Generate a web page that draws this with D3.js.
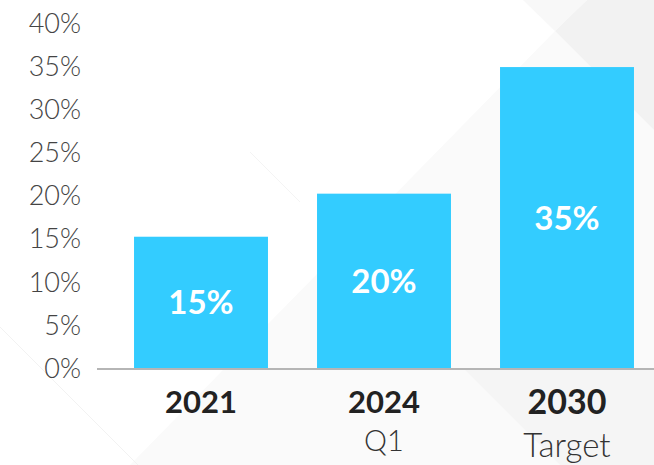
<!DOCTYPE html>
<html>
<head>
<meta charset="utf-8">
<script src="https://cdn.jsdelivr.net/npm/d3@7"></script>
<style>
  body { margin: 0; background: #fff; }
  svg { display: block; font-family: Lato, "Open Sans", sans-serif; }
</style>
</head>
<body>
<div id="chart"></div>
<script>
// data
var years = ["2021", "2024", "2030"]
var subLabels = ["", "Q1", "Target"]
var shares = [15.3, 20.3, 35.0]
var valueLabels = ["15%", "20%", "35%"]
var yTicks = [0, 5, 10, 15, 20, 25, 30, 35, 40]

var W = 654, H = 465

var svg = d3.select("#chart")
  .append("svg")
    .attr("width", W)
    .attr("height", H)

// faint diagonal background shapes
var bg = svg.append("g")
bg.append("polygon").attr("points", "130,465 555,31 654,130 654,465").style("fill", "#fafafa")
bg.append("polygon").attr("points", "587,0 654,0 654,130 555,31").style("fill", "#f2f2f2")
bg.append("polygon").attr("points", "523,0 587,0 555,31").style("fill", "#f8f8f8")
bg.append("polygon").attr("points", "463,368 654,368 654,465 560,465").style("fill", "#f5f5f5")
bg.append("line").attr("x1", 0).attr("y1", 327).attr("x2", 138).attr("y2", 465)
  .style("stroke", "#f2f2f2").style("stroke-width", 1)
bg.append("line").attr("x1", 250).attr("y1", 152).attr("x2", 300).attr("y2", 202)
  .style("stroke", "#f4f4f4").style("stroke-width", 1)

// scales
var y = d3.scaleLinear()
  .domain([0, 40])
  .range([368.5, 24])

var x = d3.scaleBand()
  .domain(years)
  .range([109.5, 658.5])
  .paddingInner(0.268)
  .paddingOuter(0.134)

// y axis labels only
var yAxis = svg.append("g")
  .attr("transform", "translate(81,0)")
  .call(d3.axisLeft(y).tickValues(yTicks).tickSize(0).tickPadding(0).tickFormat(function(d){ return d + "%" }))
yAxis.select(".domain").remove()
yAxis.selectAll("text")
  .style("font-family", "Lato, sans-serif")
  .style("font-weight", 300)
  .style("font-size", "27px")
  .style("fill", "#444")

// bars
svg.selectAll(".bar")
  .data(shares)
  .enter()
  .append("rect")
    .attr("class", "bar")
    .attr("x", function(d, i){ return x(years[i]) })
    .attr("width", x.bandwidth())
    .attr("y", function(d){ return y(d) })
    .attr("height", function(d){ return y(0) - y(d) })
    .style("fill", "#33ccff")

// value labels in the middle of each bar
svg.selectAll(".valLabel")
  .data(shares)
  .enter()
  .append("text")
    .attr("class", "valLabel")
    .attr("x", function(d, i){ return x(years[i]) + x.bandwidth()/2 })
    .attr("y", function(d){ return (y(d) + y(0))/2 })
    .attr("dy", "0.36em")
    .attr("text-anchor", "middle")
    .style("font-weight", 700)
    .style("font-size", "33px")
    .style("fill", "#fff")
    .text(function(d, i){ return valueLabels[i] })

// baseline
svg.append("line")
  .attr("x1", 97)
  .attr("x2", W)
  .attr("y1", y(0) + 0.5)
  .attr("y2", y(0) + 0.5)
  .style("stroke", "#b5b5b5")
  .style("stroke-width", 2)

// category labels
svg.selectAll(".yearLabel")
  .data(years)
  .enter()
  .append("text")
    .attr("class", "yearLabel")
    .attr("x", function(d){ return x(d) + x.bandwidth()/2 })
    .attr("y", function(d, i){ return i == 2 ? 414 : 413 })
    .attr("text-anchor", "middle")
    .style("font-weight", 700)
    .style("font-size", function(d, i){ return i == 2 ? "34px" : "31px" })
    .style("fill", "#222")
    .text(function(d){ return d })

svg.selectAll(".subLabel")
  .data(subLabels)
  .enter()
  .append("text")
    .attr("class", "subLabel")
    .attr("x", function(d, i){ return x(years[i]) + x.bandwidth()/2 })
    .attr("y", function(d, i){ return i == 2 ? 457 : 451 })
    .attr("text-anchor", "middle")
    .style("font-weight", 300)
    .style("font-size", function(d, i){ return i == 2 ? "33px" : "29px" })
    .style("fill", "#333")
    .text(function(d){ return d })
</script>
</body>
</html>
